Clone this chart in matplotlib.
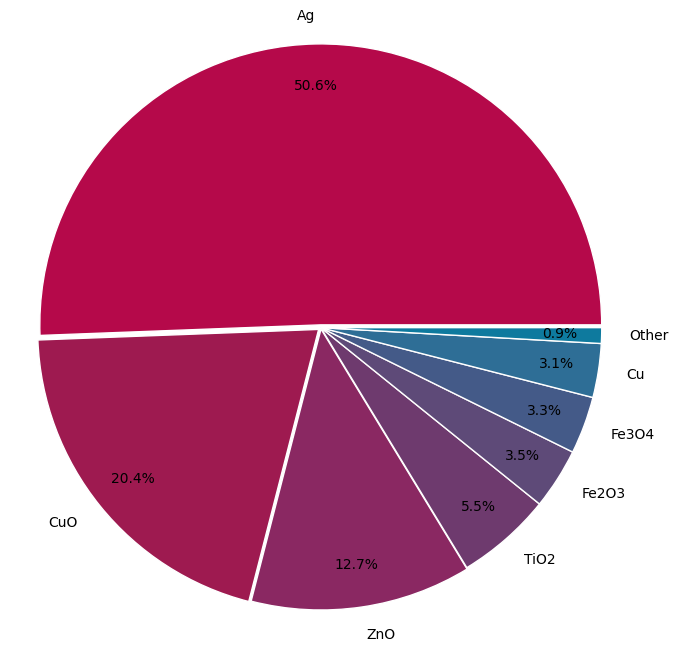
import matplotlib
matplotlib.use('agg')
import matplotlib.pyplot as plt

labels = ['Ag', 'CuO', 'ZnO', 'TiO2', 'Fe2O3', 'Fe3O4', 'Cu', 'Other']
values = [50.6, 20.4, 12.7, 5.5, 3.5, 3.3, 3.1, 0.9]
colors = ['#b5094a', '#9e1a50', '#8a2862', '#6e3a6e', '#5e4a78',
          '#445a88', '#2e6e96', '#0e7a9e']
explode = [0.01, 0.01, 0.005, 0, 0, 0, 0, 0]

fig = plt.figure(figsize=(6.79, 6.5), dpi=100)
ax = fig.add_axes([0.021, 0.018, 0.9, 0.958])
ax.pie(values, labels=labels, colors=colors, explode=explode,
       autopct='%1.1f%%', pctdistance=0.85, labeldistance=1.1,
       startangle=0, wedgeprops={'edgecolor': 'white', 'linewidth': 1})
ax.axis('equal')
plt.savefig('out.png')
